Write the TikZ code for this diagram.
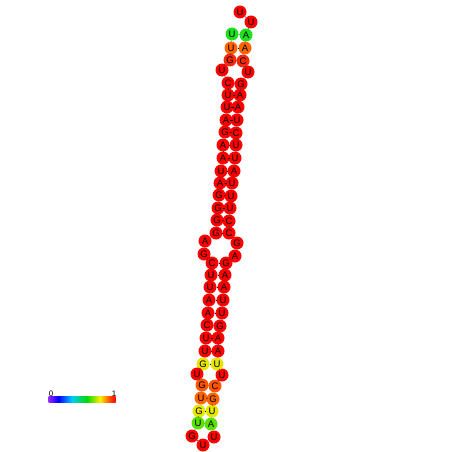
\documentclass[tikz,border=0pt]{standalone}
\usepackage{fontspec}
\setmainfont{Liberation Sans}
\definecolor{cred}{RGB}{255,0,0}
\definecolor{cro}{RGB}{250,40,10}
\definecolor{corg}{RGB}{255,100,0}
\definecolor{corg2}{RGB}{255,85,0}
\definecolor{cgrn}{RGB}{30,225,30}
\definecolor{clime}{RGB}{90,225,0}
\definecolor{cyel}{RGB}{230,230,0}
\definecolor{cviol}{RGB}{150,40,255}
\pgfdeclarehorizontalshading{rainbowbar}{100bp}{color(0bp)=(cviol); color(25bp)=(cviol); color(32.5bp)=(blue); color(42.5bp)=(cyan!80!blue); color(53.5bp)=(green!85!black); color(63.5bp)=(yellow!90!orange); color(70bp)=(orange!70!red); color(75bp)=(red); color(100bp)=(red)}
\begin{document}
\begin{tikzpicture}[x=1pt,y=-1pt,
  nt/.style={circle,fill=#1,minimum size=13pt,inner sep=0pt,font=\fontsize{9.5}{9.5}\selectfont},
  bb/.style={draw=black!75,line width=0.5pt},
  bp/.style={draw=black,line width=0.5pt},
  lbl/.style={font=\fontsize{8}{8}\selectfont,inner sep=0pt}]
\useasboundingbox (0,0) rectangle (452,452);
\foreach \i/\b/\x/\y/\c in {
1/U/232/34/cgrn, 2/U/231/48/corg, 3/G/230/60/cro, 4/U/222/70/cred,
5/C/228/83/cred, 6/U/228/95/cred, 7/U/227/107/cred, 8/A/226/120/cred,
9/G/225/132/cred, 10/A/223/145/cred, 11/A/223/158/cred, 12/U/221/171/cred,
13/A/220/183/cred, 14/G/219/195/cred, 15/G/218/208/cred, 16/G/217/220/cred,
17/G/216/233/cred, 18/A/205/241/cred, 19/G/204/254/cred, 20/C/212/263/cred,
21/U/211/275/cred, 22/U/210/287/cred, 23/A/209/300/cred, 24/A/208/313/cred,
25/C/207/325/cred, 26/U/206/338/cred, 27/U/205/351/cred, 28/G/203/364/cyel,
29/U/197/374/cred, 30/G/202/385/corg2, 31/U/201/398/corg, 32/G/199/411/cyel,
33/U/198/423/clime, 34/G/192/436/cred, 35/U/203/445/cred, 36/U/214/437/cred,
37/A/211/424/clime, 38/U/212/411/cyel, 39/G/213/399/corg, 40/C/215/386/corg2,
41/U/222/375/cred, 42/U/217/364/cyel, 43/A/218/351/cred, 44/A/218/338/cred,
45/G/220/326/cred, 46/U/222/313/cred, 47/U/223/300/cred, 48/A/224/287/cred,
49/A/225/275/cred, 50/G/226/263/cred, 51/A/235/256/cred, 52/G/237/243/cred,
53/C/229/233/cred, 54/C/229/221/cred, 55/U/230/208/cred, 56/U/231/196/cred,
57/U/232/183/cred, 58/A/234/171/cred, 59/U/235/158/cred, 60/U/236/145/cred,
61/C/236/133/cred, 62/U/237/120/cred, 63/A/238/107/cred, 64/A/240/95/cred,
65/G/241/84/cred, 66/U/248/72/cred, 67/C/243/61/cro, 68/A/245/48/corg,
69/A/246/35/cgrn, 70/U/251/22/cred, 71/U/240/12/cred}
  \node[nt=\c] (n\i) at (\x,\y) {\b};
\foreach \i [evaluate=\i as \j using int(\i+1)] in {1,...,70}
  \draw[bb] (n\i) -- (n\j);
\foreach \a/\b in {1/69,2/68,3/67,5/65,6/64,7/63,8/62,9/61,10/60,11/59,12/58,13/57,14/56,15/55,16/54,17/53,20/50,21/49,22/48,23/47,24/46,25/45,26/44,27/43,28/42,30/40,31/39,32/38,33/37}
  \draw[bp] (n\a) -- (n\b);
\node[inner sep=0pt,minimum width=67pt,minimum height=6pt,shading=rainbowbar] (bar) at (82,399) {};
\node[lbl,anchor=south] (l0) at (51,397) {0};
\node[lbl,anchor=south] (l1) at (114,397) {1};
\end{tikzpicture}
\end{document}
